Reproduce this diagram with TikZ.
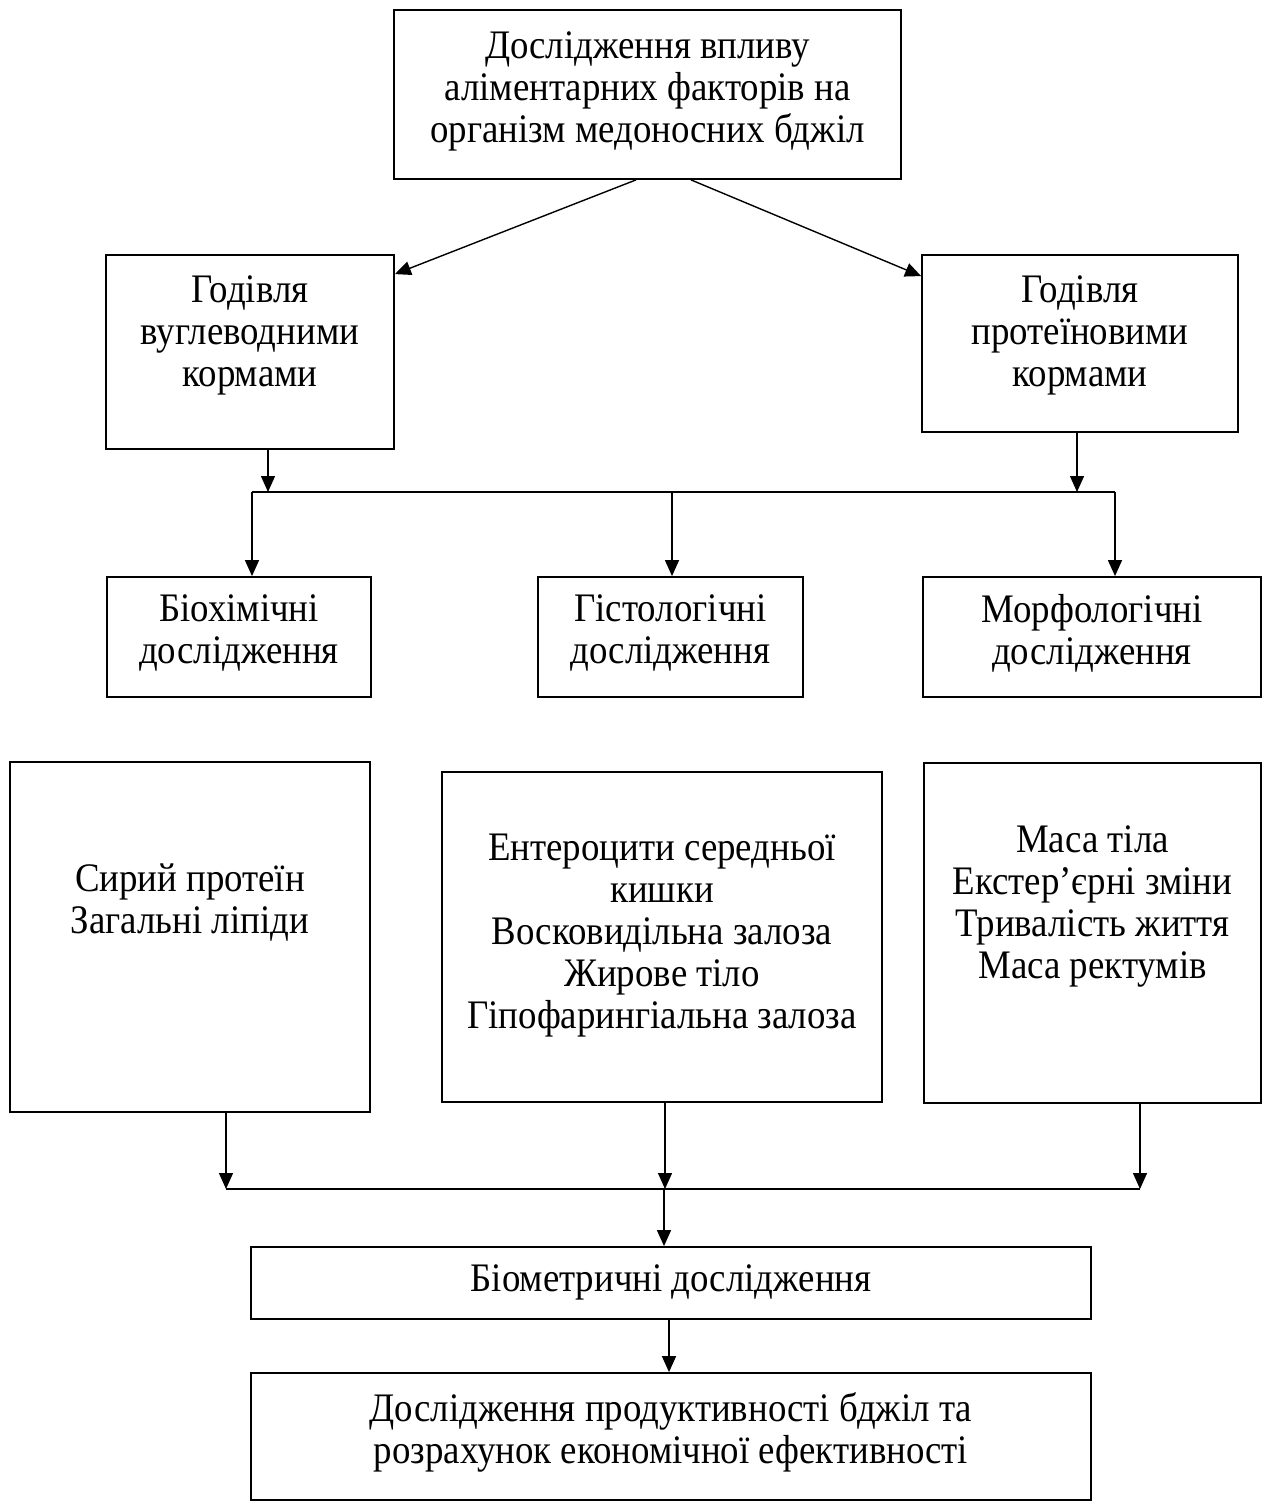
\documentclass[tikz,border=0pt]{standalone}
\usepackage{fontspec}
\setmainfont{Liberation Serif}[FakeStretch=0.91]
\usetikzlibrary{arrows.meta}
\begin{document}
\begin{tikzpicture}[x=1pt,y=-1pt,
  box/.style={draw, line width=1.8pt, inner sep=0pt},
  txt/.style={align=center, inner sep=0pt, font=\fontsize{40.5}{42}\selectfont},
  conn/.style={line width=1.4pt, -{Triangle[width=14pt,length=16pt]}},
  busline/.style={line width=1.4pt}]
\useasboundingbox (0,0) rectangle (1267,1506);
\fill[white] (0,0) rectangle (1267,1506);

% boxes
\node[box, minimum width=507pt, minimum height=169pt] (top) at (647.5,94.5) {};
\node[txt] (toptxt) at (647.5,91) {Дослідження впливу\\аліментарних факторів на\\організм медоносних бджіл};

\node[box, minimum width=288pt, minimum height=194pt] (feedL) at (250,352) {};
\node[txt] (feedLtxt) at (250,335) {Годівля\\вуглеводними\\кормами};

\node[box, minimum width=316pt, minimum height=177pt] (feedR) at (1080,343.5) {};
\node[txt] (feedRtxt) at (1080,335) {Годівля\\протеїновими\\кормами};

\node[box, minimum width=264pt, minimum height=120pt] (bio) at (239,637) {};
\node[txt] (biotxt) at (239,633) {Біохімічні\\дослідження};

\node[box, minimum width=265pt, minimum height=120pt] (hist) at (670.5,637) {};
\node[txt] (histtxt) at (670.5,633) {Гістологічні\\дослідження};

\node[box, minimum width=338pt, minimum height=120pt] (morph) at (1092,637) {};
\node[txt] (morphtxt) at (1092,633) {Морфологічні\\дослідження};

\node[box, minimum width=360pt, minimum height=350pt] (r4L) at (190,937) {};
\node[txt] (r4Ltxt) at (190,903) {Сирий протеїн\\Загальні ліпіди};

\node[box, minimum width=440pt, minimum height=330pt] (r4M) at (662,937) {};
\node[txt] (r4Mtxt) at (662,936) {Ентероцити середньої\\кишки\\Восковидільна залоза\\Жирове тіло\\Гіпофарингіальна залоза};

\node[box, minimum width=337pt, minimum height=340pt] (r4R) at (1092.5,933) {};
\node[txt] (r4Rtxt) at (1092.5,906) {Маса тіла\\Екстер’єрні зміни\\Тривалість життя\\Маса ректумів};

\node[box, minimum width=840pt, minimum height=72pt] (biom) at (671,1283) {};
\node[txt] (biomtxt) at (671,1282) {Біометричні дослідження};

\node[box, minimum width=840pt, minimum height=127pt] (last) at (671,1436.5) {};
\node[txt] (lasttxt) at (671,1432) {Дослідження продуктивності бджіл та\\розрахунок економічної ефективності};

% bus coordinates
\coordinate (busL) at (252,492);
\coordinate (busR) at (1115,492);
\coordinate (bbL) at (226,1189);
\coordinate (bbR) at (1140,1189);
\coordinate (bbM) at (664,1189);

% connectors
\draw[conn] ([xshift=-11.5pt]top.south) -- ([yshift=-20pt]feedL.north east);
\draw[conn] ([xshift=43.5pt]top.south) -- ([yshift=-22pt]feedR.north west);

\draw[conn] ([xshift=18pt]feedL.south) -- ([xshift=18pt]feedL.south |- busL);
\draw[conn] ([xshift=-3pt]feedR.south) -- ([xshift=-3pt]feedR.south |- busR);
\draw[busline] (busL) -- (busR);
\draw[conn] (busL) -- (busL |- bio.north);
\draw[conn] ([xshift=1.5pt]hist.north |- busL) -- ([xshift=1.5pt]hist.north);
\draw[conn] (busR) -- (busR |- morph.north);

\draw[conn] (r4L.south -| bbL) -- (bbL);
\draw[conn] ([xshift=3pt]r4M.south) -- ([xshift=3pt]r4M.south |- bbL);
\draw[conn] (r4R.south -| bbR) -- (bbR);
\draw[busline] (bbL) -- (bbR);
\draw[conn] (bbM) -- (bbM |- biom.north);
\draw[conn] ([xshift=-2pt]biom.south) -- ([xshift=-2pt]biom.south |- last.north);
\end{tikzpicture}
\end{document}
